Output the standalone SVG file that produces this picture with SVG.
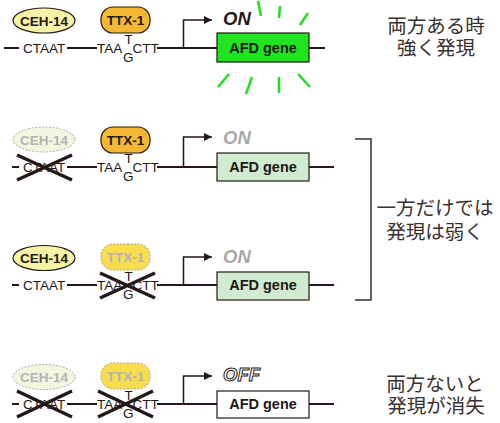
<svg xmlns="http://www.w3.org/2000/svg" width="500" height="423" viewBox="0 0 500 423">
<defs>
<style>
.dna{stroke:#231815;stroke-width:2;fill:none}
.seq{font-family:"Liberation Sans",Arial,sans-serif;font-size:13.5px;fill:#231815}
.lab{font-family:"Liberation Sans",Arial,sans-serif;font-size:13.5px;font-weight:bold;text-anchor:middle;fill:#231815}
.labf{font-family:"Liberation Sans",Arial,sans-serif;font-size:13.5px;font-weight:bold;text-anchor:middle;fill:#b4b4b4}
.ceh{fill:#f7f3a6;stroke:#231815;stroke-width:1.2}
.cehf{fill:#f2f6df;stroke:#a8a8a8;stroke-width:1;stroke-dasharray:2 1.5}
.ttx{fill:#f5b833;stroke:#231815;stroke-width:1.2}
.ttxf{fill:#f9dd4e;stroke:#a0a0a0;stroke-width:1;stroke-dasharray:2 1.5}
.x{stroke:#231815;stroke-width:3.5}
.prom{stroke:#231815;stroke-width:1.5;fill:none}
.gene{font-family:"Liberation Sans",Arial,sans-serif;font-size:14.5px;font-weight:bold;text-anchor:middle;fill:#231815}
.on{font-family:"Liberation Sans",Arial,sans-serif;font-size:18.5px;font-weight:bold;font-style:italic}
.ray{stroke:#1fe01f;stroke-width:2.5}
.jp{font-family:"Noto Sans CJK JP",sans-serif;font-size:19.5px;fill:#3a3030;text-anchor:middle}
</style>
<marker id="ah" viewBox="0 0 10 10" refX="10" refY="5" markerWidth="8" markerHeight="8" markerUnits="userSpaceOnUse" orient="auto">
<path d="M0,0 L10,5 L0,10 z" fill="#231815"/>
</marker>
</defs>

<g id="connectors">
<path class="dna" d="M4,48 H19 M67,48 H97 M157,48 H217 M309,48 H325"/>
<path class="prom" d="M183.5,48 V20 H212" marker-end="url(#ah)"/>
<path class="dna" d="M12,167 H19 M67,167 H97 M157,167 H217 M309,167 H334"/>
<path class="prom" d="M183.5,167 V137 H212" marker-end="url(#ah)"/>
<path class="dna" d="M12,285 H19 M67,285 H97 M157,285 H217 M309,285 H334"/>
<path class="prom" d="M183.5,285 V257 H212" marker-end="url(#ah)"/>
<path class="dna" d="M12,404 H19 M67,404 H97 M157,404 H217 M309,404 H334"/>
<path class="prom" d="M183.5,404 V376 H212" marker-end="url(#ah)"/>
<path d="M355,139 H371 V300 H355" fill="none" stroke="#3a3030" stroke-width="1.5"/>
</g>

<g id="row1">
<g id="ceh14-1"><ellipse class="ceh" cx="44" cy="20.5" rx="31" ry="12.5"/><text class="lab" x="44" y="25.5">CEH-14</text></g>
<g id="ttx1-1"><rect class="ttx" x="101" y="7" width="49" height="26" rx="12"/><text class="lab" x="125.5" y="25">TTX-1</text></g>
<g id="seq-1">
<text class="seq" x="23" y="53">CTAAT</text>
<text class="seq" x="97" y="53">TAA</text>
<text class="seq" x="124.5" y="44">T</text>
<text class="seq" x="123" y="62">G</text>
<text class="seq" x="132.5" y="53" font-size="13">CTT</text>
</g>
<g id="gene-1"><rect x="217" y="33" width="92" height="29" fill="#20e420" stroke="#231815" stroke-width="1.2"/><text class="gene" x="263" y="53">AFD gene</text></g>
<text class="on" x="223" y="25" fill="#231815">ON</text>
<g id="rays">
<line class="ray" x1="258" y1="1" x2="261" y2="16"/>
<line class="ray" x1="280" y1="6" x2="279" y2="18"/>
<line class="ray" x1="308" y1="13" x2="300" y2="25"/>
<line class="ray" x1="218" y1="87" x2="229" y2="74"/>
<line class="ray" x1="246" y1="94" x2="252" y2="77"/>
<line class="ray" x1="279" y1="93" x2="279" y2="77"/>
<line class="ray" x1="310" y1="87" x2="298" y2="74"/>
</g>
</g>

<g id="row2">
<g id="ceh14-2"><ellipse class="cehf" cx="44" cy="139.5" rx="31" ry="12.5"/><text class="labf" x="44" y="144.5">CEH-14</text></g>
<g id="ttx1-2"><rect class="ttx" x="101" y="127" width="49" height="26" rx="12"/><text class="lab" x="125.5" y="145">TTX-1</text></g>
<g id="seq-2">
<text class="seq" x="23" y="172">CTAAT</text>
<text class="seq" x="97" y="172">TAA</text>
<text class="seq" x="124.5" y="163">T</text>
<text class="seq" x="123" y="181">G</text>
<text class="seq" x="132.5" y="172" font-size="13">CTT</text>
<path class="x" d="M17,155 L72,180 M17,180 L72,155"/>
</g>
<g id="gene-2"><rect x="217" y="153" width="92" height="28" fill="#d0ebd0" stroke="#231815" stroke-width="1.2"/><text class="gene" x="263" y="172">AFD gene</text></g>
<text class="on" x="223" y="144" fill="#a8a8a8">ON</text>
</g>

<g id="row3">
<g id="ceh14-3"><ellipse class="ceh" cx="44" cy="258" rx="31" ry="12.5"/><text class="lab" x="44" y="263">CEH-14</text></g>
<g id="ttx1-3"><rect class="ttxf" x="101" y="244" width="49" height="26" rx="12"/><text class="labf" x="125.5" y="262">TTX-1</text></g>
<g id="seq-3">
<text class="seq" x="23" y="290">CTAAT</text>
<text class="seq" x="97" y="290">TAA</text>
<text class="seq" x="124.5" y="281">T</text>
<text class="seq" x="123" y="299">G</text>
<text class="seq" x="132.5" y="290" font-size="13">CTT</text>
<path class="x" d="M100,273 L155,298 M100,298 L155,273"/>
</g>
<g id="gene-3"><rect x="217" y="272" width="92" height="28" fill="#d0ebd0" stroke="#231815" stroke-width="1.2"/><text class="gene" x="263" y="290">AFD gene</text></g>
<text class="on" x="223" y="263" fill="#a8a8a8">ON</text>
</g>

<g id="row4">
<g id="ceh14-4"><ellipse class="cehf" cx="44" cy="377" rx="31" ry="12.5"/><text class="labf" x="44" y="382">CEH-14</text></g>
<g id="ttx1-4"><rect class="ttxf" x="101" y="363" width="49" height="26" rx="12"/><text class="labf" x="125.5" y="381">TTX-1</text></g>
<g id="seq-4">
<text class="seq" x="23" y="409">CTAAT</text>
<text class="seq" x="97" y="409">TAA</text>
<text class="seq" x="124.5" y="400">T</text>
<text class="seq" x="123" y="418">G</text>
<text class="seq" x="132.5" y="409" font-size="13">CTT</text>
<path class="x" d="M17,391 L72,417 M17,417 L72,391 M98,391 L153,417 M98,417 L153,391"/>
</g>
<g id="gene-4"><rect x="217" y="391" width="92" height="27" fill="#ffffff" stroke="#231815" stroke-width="1.2"/><text class="gene" x="263" y="409">AFD gene</text></g>
<text class="on" x="223" y="381" fill="#ffffff" stroke="#231815" stroke-width="1" font-size="19.5">OFF</text>
</g>

<g id="notes">
<text class="jp" x="436" y="33">両方ある時</text>
<text class="jp" x="436" y="55">強く発現</text>
<text class="jp" x="435" y="215">一方だけでは</text>
<text class="jp" x="435" y="239">発現は弱く</text>
<text class="jp" x="435" y="391">両方ないと</text>
<text class="jp" x="436" y="413">発現が消失</text>
</g>
</svg>
